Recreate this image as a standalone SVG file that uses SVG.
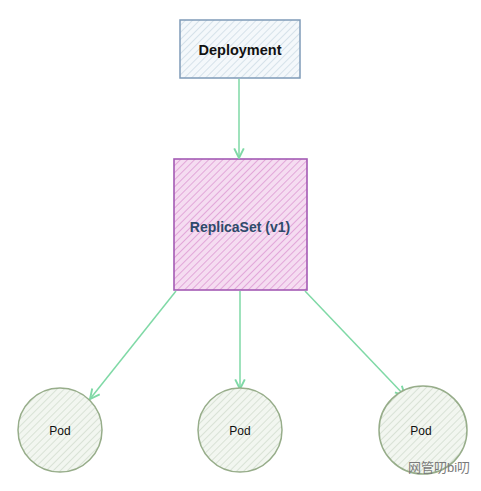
<svg xmlns="http://www.w3.org/2000/svg" width="481" height="491" viewBox="0 0 481 491">
<defs>
<pattern id="hb" width="5" height="5" patternUnits="userSpaceOnUse" patternTransform="rotate(45)"><rect width="5" height="5" fill="#f4f8fb"/><line x1="0" y1="0" x2="0" y2="5" stroke="#c3d3e0" stroke-width="1.2"/></pattern>
<pattern id="hp" width="5" height="5" patternUnits="userSpaceOnUse" patternTransform="rotate(45)"><rect width="5" height="5" fill="#f5dcf1"/><line x1="0" y1="0" x2="0" y2="5" stroke="#dc95d2" stroke-width="1.5"/></pattern>
<pattern id="hg" width="5" height="5" patternUnits="userSpaceOnUse" patternTransform="rotate(45)"><rect width="5" height="5" fill="#f2f6f0"/><line x1="0" y1="0" x2="0" y2="5" stroke="#c9d5c5" stroke-width="1.2"/></pattern>
<marker id="ah" viewBox="0 0 10 10" refX="9" refY="5" markerWidth="8" markerHeight="8" orient="auto"><path d="M1,1 L9,5 L1,9" fill="none" stroke="#7fd9a6" stroke-width="1.6"/></marker>
<style>
.lbl{font-family:"Liberation Sans",Arial,sans-serif;text-anchor:middle;dominant-baseline:central}
.pod circle{fill:url(#hg);stroke:#97ad8a;stroke-width:1.5}
.conn line{stroke:#7fd9a6;stroke-width:1.5;marker-end:url(#ah)}
</style>
</defs>
<rect width="481" height="491" fill="#ffffff"/>
<g id="deployment">
<rect x="180" y="20" width="120" height="58" fill="url(#hb)" stroke="#7f9bb8" stroke-width="1.5"/>
<text class="lbl" x="240" y="50" font-size="14.5" font-weight="bold" fill="#111">Deployment</text>
</g>
<g id="replicaset">
<rect x="174" y="159" width="133" height="131" fill="url(#hp)" stroke="#a45bb5" stroke-width="1.6"/>
<text class="lbl" x="240" y="227" font-size="14" font-weight="bold" fill="#2e4a6a">ReplicaSet (v1)</text>
</g>
<g class="conn" id="connectors">
<line x1="239" y1="79" x2="239" y2="158"/>
<line x1="176" y1="291" x2="90" y2="399"/>
<line x1="240" y1="291" x2="240" y2="389"/>
<line x1="305" y1="291" x2="405" y2="396"/>
</g>
<g id="pod1" class="pod">
<circle cx="60" cy="430" r="42"/>
<text class="lbl" x="60" y="431" font-size="12" fill="#111">Pod</text>
</g>
<g id="pod2" class="pod">
<circle cx="240" cy="430" r="42"/>
<text class="lbl" x="240" y="431" font-size="12" fill="#111">Pod</text>
</g>
<g id="pod3" class="pod">
<circle cx="423" cy="430" r="44"/>
<text class="lbl" x="421" y="431" font-size="12" fill="#111">Pod</text>
</g>
<text x="408" y="472" font-family="'Liberation Sans','Noto Sans CJK SC',sans-serif" font-size="13" fill="#7a7a7a">网管叨bi叨</text>
</svg>
